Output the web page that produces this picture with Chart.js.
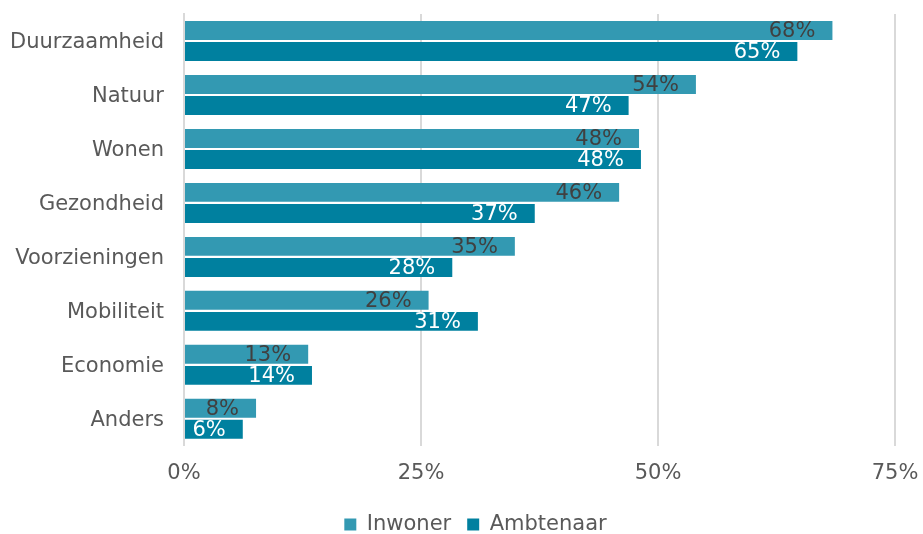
<!DOCTYPE html>
<html>
<head>
<meta charset="utf-8">
<script src="https://cdn.jsdelivr.net/npm/chart.js@4/dist/chart.umd.min.js"></script>
<style>
  html, body { margin: 0; padding: 0; background: #fff; }
  #wrap { width: 923px; height: 534px; }
</style>
</head>
<body>
<div id="wrap"><canvas id="chart" width="923" height="534"></canvas></div>
<script>
// categorieën en waarden (%)
const categories = ['Duurzaamheid', 'Natuur', 'Wonen', 'Gezondheid', 'Voorzieningen', 'Mobiliteit', 'Economie', 'Anders'];
const inwoner = [68.4, 54.0, 48.0, 45.9, 34.9, 25.8, 13.1, 7.6];
const ambtenaar = [64.7, 46.9, 48.2, 37.0, 28.3, 31.0, 13.5, 6.2];
const inwonerLabels = ['68%', '54%', '48%', '46%', '35%', '26%', '13%', '8%'];
const ambtenaarLabels = ['65%', '47%', '48%', '37%', '28%', '31%', '14%', '6%'];
const xTicks = [0, 25, 50, 75];

const FONT = '"DejaVu Sans", Verdana, sans-serif';

// labels binnen het einde van de balk
const barLabels = {
  id: 'barLabels',
  afterLayout(chart) {
    // legenda iets naar rechts, zoals in het origineel
    chart.legend.left += 20;
  },
  afterDatasetsDraw(chart) {
    const ctx = chart.ctx;
    ctx.save();
    ctx.font = '21px ' + FONT;
    ctx.textAlign = 'right';
    ctx.textBaseline = 'middle';
    chart.data.datasets.forEach(function(ds, di) {
      const meta = chart.getDatasetMeta(di);
      meta.data.forEach(function(bar, i) {
        ctx.fillStyle = ds.labelColor;
        ctx.fillText(ds.labels[i], bar.x - 17, bar.y + 1);
      });
    });
    ctx.restore();
  }
};

const ctx = document.getElementById('chart').getContext('2d');
const chart = new Chart(ctx, {
  type: 'bar',
  data: {
    labels: categories,
    datasets: [{
      label: 'Inwoner',
      data: inwoner,
      labels: inwonerLabels,
      labelColor: '#404040',
      backgroundColor: '#3399B2',
      categoryPercentage: 0.78,
      barPercentage: 0.9
    }, {
      label: 'Ambtenaar',
      data: ambtenaar,
      labels: ambtenaarLabels,
      labelColor: '#ffffff',
      backgroundColor: '#00809F',
      categoryPercentage: 0.78,
      barPercentage: 0.9
    }]
  },
  options: {
    indexAxis: 'y',
    responsive: false,
    animation: false,
    layout: { padding: { top: 14, left: 8, right: 0, bottom: -11 } },
    scales: {
      x: {
        min: 0,
        max: 75,
        afterBuildTicks: function(axis) {
          axis.ticks = xTicks.map(function(v) { return { value: v }; });
        },
        afterFit: function(axis) {
          axis.paddingRight = 28;
          axis.paddingLeft = 0;
          axis.height -= 3;
        },
        ticks: {
          callback: function(v) { return v + '%'; },
          color: '#595959',
          font: { family: FONT, size: 21 },
          padding: 15,
          maxRotation: 0
        },
        grid: { color: '#D9D9D9', lineWidth: 2, drawTicks: false },
        border: { display: false }
      },
      y: {
        afterFit: function(axis) {
          axis.paddingTop = 0;
          axis.paddingBottom = 0;
          axis.width = 176;
        },
        ticks: {
          color: '#595959',
          font: { family: FONT, size: 21 },
          padding: 20,
          labelOffset: 2
        },
        grid: { display: false, drawTicks: false },
        border: { color: '#D9D9D9', width: 2 }
      }
    },
    plugins: {
      legend: {
        position: 'bottom',
        labels: {
          color: '#595959',
          font: { family: FONT, size: 21 },
          boxWidth: 12,
          boxHeight: 12,
          padding: 16
        }
      },
      tooltip: { enabled: false }
    }
  },
  plugins: [barLabels]
});
</script>
</body>
</html>
